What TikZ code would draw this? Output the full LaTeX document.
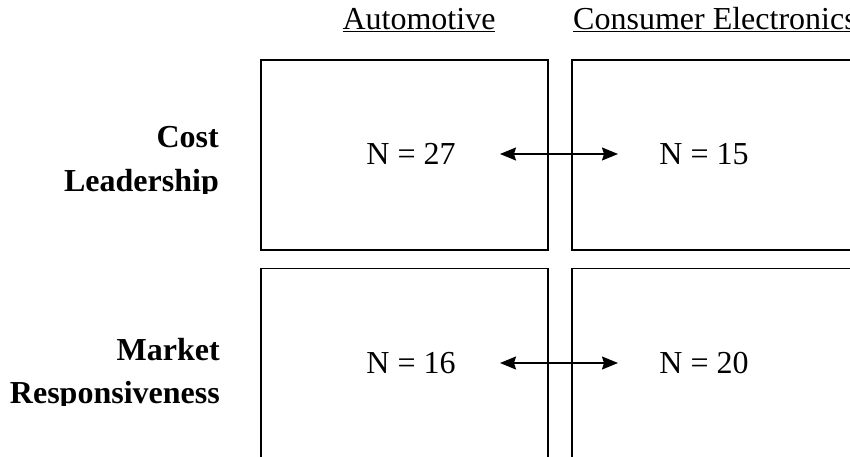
\documentclass[tikz,border=0pt]{standalone}
\usepackage{fontspec}
\setmainfont{Liberation Serif}
\usetikzlibrary{arrows.meta}
\tikzset{
  cell/.style={draw, line width=1.8pt, rectangle, minimum width=287pt, minimum height=190pt, inner sep=0pt, anchor=north west},
  hdr/.style={inner sep=0pt, font=\fontsize{32}{38}\selectfont},
  rowlbl/.style={inner sep=0pt, anchor=base east, font=\fontsize{32}{38}\selectfont\bfseries},
  count/.style={inner sep=0pt, anchor=base, font=\fontsize{32}{38}\selectfont},
  link/.style={line width=1.4pt, {Stealth[length=16pt,width=13pt,inset=2pt]}-{Stealth[length=16pt,width=13pt,inset=2pt]}}
}
\begin{document}
\begin{tikzpicture}[x=1pt,y=-1pt]
\clip (0,0) rectangle (850,457);
\fill[white] (0,0) rectangle (850,457);
% headers
\node[hdr, anchor=base] (hauto) at (419,29.5) {\underline{Automotive}};
\node[hdr, anchor=base west] (hcons) at (573,29.5) {\underline{Consumer Electronics}};
% cells
\node[cell] (c11) at (260,59) {};
\node[cell] (c12) at (571,59) {};
\node[cell] (c21) at (260,267.5) {};
\node[cell] (c22) at (571,267.5) {};
% row labels (clipped at baseline like the reference)
\begin{scope}
\clip (0,100) rectangle (250,193);
\node[rowlbl] (r1a) at (219,147.5) {Cost};
\node[rowlbl] (r1b) at (219,191.7) {Leadership};
\end{scope}
\begin{scope}
\clip (0,300) rectangle (250,405);
\node[rowlbl] (r2a) at (220,360) {Market};
\node[rowlbl] (r2b) at (220,403) {Responsiveness};
\end{scope}
% counts
\node[count] (n11) at (411,164.5) {N = 27};
\node[count] (n12) at (704,164.5) {N = 15};
\node[count] (n21) at (411,373.5) {N = 16};
\node[count] (n22) at (704,373.5) {N = 20};
% arrows
\coordinate (a1l) at (500,154);
\coordinate (a1r) at (618,154);
\coordinate (a2l) at (500,363);
\coordinate (a2r) at (618,363);
\draw[link] (a1l) -- (a1r);
\draw[link] (a2l) -- (a2r);
\end{tikzpicture}
\end{document}
